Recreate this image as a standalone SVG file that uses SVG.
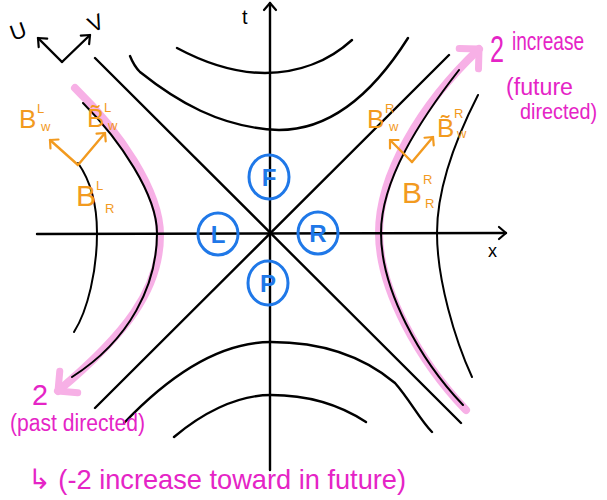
<svg xmlns="http://www.w3.org/2000/svg" width="607" height="500" viewBox="0 0 607 500">
<defs>
<style>
.ln{fill:none;stroke:#000;stroke-width:2.4;stroke-linecap:round;stroke-linejoin:round}
.thin{fill:none;stroke:#000;stroke-width:2;stroke-linecap:round}
.hl{fill:none;stroke:#f7b0e6;stroke-width:8;stroke-linecap:round;stroke-linejoin:round}
.ov{fill:none;stroke:#f29a1f;stroke-width:2.4;stroke-linecap:round;stroke-linejoin:round}
.reg{fill:none;stroke:#1f78e8;stroke-width:3}
.rl{font-family:"Liberation Sans","DejaVu Sans",sans-serif;font-size:24px;font-weight:bold;fill:#1f78e8;text-anchor:middle}
.pk{font-family:"Liberation Sans","DejaVu Sans",sans-serif;fill:#e524c6}
.or{font-family:"Liberation Sans","DejaVu Sans",sans-serif;fill:#f29a1f}
.bk{font-family:"Liberation Sans","DejaVu Sans",sans-serif;fill:#000}
</style>
<marker id="ahK" markerUnits="userSpaceOnUse" markerWidth="20" markerHeight="20" viewBox="-10 -10 20 20" refX="0" refY="0" orient="auto"><path d="M-7,-6 L0,0 L-7,6" fill="none" stroke="#000" stroke-width="2.2" stroke-linecap="round" stroke-linejoin="round"/></marker>
<marker id="ahO" markerUnits="userSpaceOnUse" markerWidth="20" markerHeight="20" viewBox="-10 -10 20 20" refX="0" refY="0" orient="auto"><path d="M-6,-6 L0,0 L-6,6" fill="none" stroke="#f29a1f" stroke-width="2.2" stroke-linecap="round" stroke-linejoin="round"/></marker>
<marker id="ahP" markerUnits="userSpaceOnUse" markerWidth="44" markerHeight="44" viewBox="-22 -22 44 44" refX="0" refY="0" orient="auto"><path d="M-14,-14 L0,0 L-14,14" fill="none" stroke="#f7b0e6" stroke-width="7" stroke-linecap="round" stroke-linejoin="round"/></marker>
</defs>
<rect width="607" height="500" fill="#fff"/>

<g id="highlights">
<path class="hl" d="M75,88 C118,130 160,190 160,235 C160,290 125,335 58,391" marker-end="url(#ahP)"/>
<path class="hl" d="M466,410 C420,362 379,290 379,233 C379,175 420,105 479,49" marker-end="url(#ahP)"/>
</g>

<g id="axes">
<path class="ln" d="M270,470 L270,3" marker-end="url(#ahK)"/>
<path class="ln" d="M37,234 L506,233" marker-end="url(#ahK)"/>
<text class="bk" x="242" y="24" font-size="20">t</text>
<text class="bk" x="488" y="257" font-size="18">x</text>
</g>

<g id="horizons">
<path class="ln" d="M95,58 L461,423"/>
<path class="ln" d="M449,55 L95,408"/>
</g>

<g id="hyperbolas">
<path class="ln" d="M130,56 Q134,66 140,72 C175,100 220,128 279,130 C330,130 372,95 408,38"/>
<path class="ln" d="M177,48 C205,63 235,73 265,73 C300,73 330,60 352,40"/>
<path class="ln" d="M124,423 C165,380 215,342 271,342 C330,342 370,362 395,383 C410,400 420,420 432,432"/>
<path class="ln" d="M174,437 C200,415 235,395 271,395 C310,395 340,405 366,422"/>
<path class="thin" d="M83,103 C120,140 157,195 157,233 C157,285 130,340 72,377"/>
<path class="thin" d="M78,163 C90,180 97,205 97,233 C97,270 88,310 74,332"/>
<path class="thin" d="M459,70 C420,120 381,180 381,233 C381,290 420,360 463,405"/>
<path class="thin" d="M478,95 C455,140 437,190 437,233 C437,280 455,340 472,377"/>
</g>

<g id="uv">
<path class="ln" d="M62,62 L38,38" marker-end="url(#ahK)"/>
<path class="ln" d="M62,62 L90,35" marker-end="url(#ahK)"/>
<text class="bk" x="10" y="38" font-size="22" transform="rotate(-20 20 30)">U</text>
<text class="bk" x="88" y="30" font-size="22" transform="rotate(-25 97 22)">V</text>
</g>

<g id="region-F"><ellipse class="reg" cx="269" cy="177" rx="20" ry="22"/><text class="rl" x="269" y="186">F</text></g>
<g id="region-L"><ellipse class="reg" cx="218" cy="234" rx="20" ry="21"/><text class="rl" x="218" y="243">L</text></g>
<g id="region-R"><ellipse class="reg" cx="318" cy="233" rx="20" ry="21"/><text class="rl" x="318" y="242">R</text></g>
<g id="region-P"><ellipse class="reg" cx="268" cy="283" rx="20" ry="22"/><text class="rl" x="268" y="292">P</text></g>

<g id="left-modes">
<path class="ov" d="M78,165 L50,140" marker-end="url(#ahO)"/>
<path class="ov" d="M78,165 L105,133" marker-end="url(#ahO)"/>
<text class="or"><tspan x="19" y="128" font-size="26">B</tspan><tspan x="37" y="113" font-size="13">L</tspan><tspan x="41" y="131" font-size="13">w</tspan></text>
<text class="or"><tspan x="87" y="127" font-size="26">B̃</tspan><tspan x="104" y="112" font-size="13">L</tspan><tspan x="108" y="130" font-size="13">w</tspan></text>
<text class="or"><tspan x="76" y="206" font-size="30">B</tspan><tspan x="96" y="190" font-size="13">L</tspan><tspan x="105" y="213" font-size="13">R</tspan></text>
</g>

<g id="right-modes">
<path class="ov" d="M412,162 L390,140" marker-end="url(#ahO)"/>
<path class="ov" d="M412,162 L433,137" marker-end="url(#ahO)"/>
<text class="or"><tspan x="367" y="128" font-size="26">B</tspan><tspan x="385" y="113" font-size="13">R</tspan><tspan x="389" y="131" font-size="13">w</tspan></text>
<text class="or"><tspan x="437" y="137" font-size="26">B̃</tspan><tspan x="454" y="118" font-size="13">R</tspan><tspan x="457" y="138" font-size="13">w</tspan></text>
<text class="or"><tspan x="402" y="203" font-size="30">B</tspan><tspan x="423" y="184" font-size="13">R</tspan><tspan x="425" y="208" font-size="13">R</tspan></text>
</g>

<g id="notes">
<text class="pk" x="490" y="62" font-size="36" textLength="14" lengthAdjust="spacingAndGlyphs">2</text>
<text class="pk" x="512" y="50" font-size="25" textLength="72" lengthAdjust="spacingAndGlyphs">increase</text>
<text class="pk" x="506" y="95" font-size="23" textLength="67" lengthAdjust="spacingAndGlyphs">(future</text>
<text class="pk" x="520" y="119" font-size="22" textLength="77" lengthAdjust="spacingAndGlyphs">directed)</text>
<text class="pk" x="32" y="405" font-size="30" textLength="16" lengthAdjust="spacingAndGlyphs">2</text>
<text class="pk" x="10" y="431" font-size="23" textLength="135" lengthAdjust="spacingAndGlyphs">(past directed)</text>
<text class="pk" x="28" y="489" font-size="28" textLength="378" lengthAdjust="spacingAndGlyphs">↳ (-2 increase toward in future)</text>
</g>
</svg>
